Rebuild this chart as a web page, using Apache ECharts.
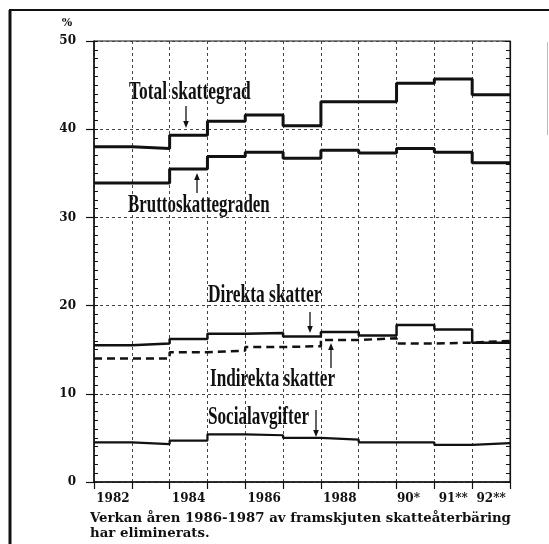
<!DOCTYPE html>
<html>
<head>
<meta charset="utf-8">
<script src="https://cdn.jsdelivr.net/npm/echarts@6/dist/echarts.min.js"></script>
<style>
html,body{margin:0;padding:0;background:#fff;}
#c{width:549px;height:544px;}
</style>
</head>
<body>
<div id="c"></div>
<script>
// ---- data ----
const years = ['1982','1983','1984','1985','1986','1987','1988','1989','1990','1991','1992'];
const yearLabels = ['1982','','1984','','1986','','1988','','90*','91**','92**'];
const totalSkattegrad = [38.0, 37.8, 39.3, 40.9, 41.6, 40.4, 43.1, 43.1, 45.2, 45.7, 43.9];
const bruttoskattegraden = [33.9, 33.9, 35.5, 36.9, 37.4, 36.7, 37.6, 37.3, 37.8, 37.4, 36.2];
const direktaSkatter = [15.5, 15.7, 16.2, 16.8, 16.9, 16.5, 17.0, 16.6, 17.8, 17.3, 15.8];
const indirektaSkatter = [14.0, 14.0, 14.7, 14.9, 15.3, 15.4, 16.1, 16.3, 15.7, 15.8, 16.0];
const socialavgifter = [4.5, 4.3, 4.7, 5.4, 5.3, 5.0, 4.8, 4.5, 4.5, 4.2, 4.4];
const footnote1 = 'Verkan åren 1986-1987 av framskjuten skatteåterbäring';
const footnote2 = 'har eliminerats.';

// step series: each year's value spans from its left boundary to the right one
const boundaries = years.concat(['']);
function stepData(arr){ return arr.concat([arr[arr.length-1]]); }

const serifBold = '"DejaVu Serif", serif';
const chart = echarts.init(document.getElementById('c'));

function arrow(x, y1, y2){
  const dir = y2 > y1 ? 1 : -1;
  return [
    {type:'line', shape:{x1:x, y1:y1, x2:x, y2:y2 - dir*5}, style:{stroke:'#111', lineWidth:1.3}, z:20},
    {type:'polygon', shape:{points:[[x-2.8, y2 - dir*7],[x+2.8, y2 - dir*7],[x, y2]]}, style:{fill:'#111'}, z:20}
  ];
}
function label(text, x, baseline, sx){
  return {type:'text', x:x, y:baseline + 5, scaleX:sx, z:20,
    style:{text:text, font:'bold 26px "Liberation Serif", serif', fill:'#111', textAlign:'left', textVerticalAlign:'bottom'}};
}

const option = {
  animation:false,
  backgroundColor:'#fff',
  grid:{left:94, right:39, top:41, bottom:62, show:true, borderColor:'#111', borderWidth:1},
  xAxis:[
    {type:'category', data:yearLabels, boundaryGap:true,
     axisLine:{lineStyle:{color:'#111', width:1.5}},
     axisTick:{show:true, length:7, interval:0, lineStyle:{color:'#111', width:1.2}},
     axisLabel:{interval:0, margin:11, color:'#111', fontFamily:serifBold, fontWeight:'bold', fontSize:12,
       formatter:function(v){ return v === '90*' ? '{s|' + v + '}' : v; },
       rich:{s:{fontFamily:serifBold, fontWeight:'bold', fontSize:12, color:'#111', padding:[0,14,0,0]}}},
     splitLine:{show:true, interval:0, lineStyle:{color:'#444', width:1, type:[3,3]}}},
    {type:'category', data:boundaries, boundaryGap:false, show:false}
  ],
  yAxis:[
    {type:'value', position:'left', min:0, max:50, interval:10,
     axisLine:{show:true, lineStyle:{color:'#111', width:1.5}},
     axisTick:{show:true, length:8, lineStyle:{color:'#111', width:1.2}},
     axisLabel:{margin:18, color:'#111', fontFamily:serifBold, fontWeight:'bold', fontSize:12},
     splitLine:{show:true, lineStyle:{color:'#444', width:1, type:[3,3]}}},
    {type:'value', position:'left', min:0, max:50, interval:10,
     axisLine:{show:false},
     axisTick:{show:true, inside:true, length:4, lineStyle:{color:'#111'}},
     minorTick:{show:true, splitNumber:10, length:4, lineStyle:{color:'#111'}},
     axisLabel:{show:false}, splitLine:{show:false}},
    {type:'value', position:'right', min:0, max:50, interval:10,
     axisLine:{show:true, lineStyle:{color:'#111', width:1.2}},
     axisTick:{show:true, inside:true, length:5, lineStyle:{color:'#111'}},
     minorTick:{show:true, splitNumber:10, length:4, lineStyle:{color:'#111'}},
     axisLabel:{show:false}, splitLine:{show:false}}
  ],
  series:[
    {name:'Total skattegrad', type:'line', xAxisIndex:1, yAxisIndex:0, step:'end', symbol:'none',
     data:stepData(totalSkattegrad), lineStyle:{color:'#111', width:3}, z:5},
    {name:'Bruttoskattegraden', type:'line', xAxisIndex:1, yAxisIndex:0, step:'end', symbol:'none',
     data:stepData(bruttoskattegraden), lineStyle:{color:'#111', width:3}, z:5},
    {name:'Direkta skatter', type:'line', xAxisIndex:1, yAxisIndex:0, step:'end', symbol:'none',
     data:stepData(direktaSkatter), lineStyle:{color:'#111', width:2.5}, z:5},
    {name:'Indirekta skatter', type:'line', xAxisIndex:1, yAxisIndex:0, step:'end', symbol:'none',
     data:stepData(indirektaSkatter), lineStyle:{color:'#111', width:2.5, type:[8,5]}, z:6},
    {name:'Socialavgifter', type:'line', xAxisIndex:1, yAxisIndex:0, step:'end', symbol:'none',
     data:stepData(socialavgifter), lineStyle:{color:'#111', width:2.2}, z:5}
  ],
  graphic:[
    // outer frame
    {type:'line', shape:{x1:9, y1:10, x2:549, y2:10}, style:{stroke:'#111', lineWidth:2}},
    {type:'line', shape:{x1:10, y1:10, x2:10, y2:544}, style:{stroke:'#111', lineWidth:3}},
    {type:'line', shape:{x1:547.5, y1:42, x2:547.5, y2:135}, style:{stroke:'#bbb', lineWidth:1}},
    // unit
    {type:'text', x:67, y:23, style:{text:'%', font:'bold 11px "DejaVu Serif", serif', fill:'#111', textAlign:'center', textVerticalAlign:'middle'}},
    // series labels
    label('Total skattegrad', 129, 100, 0.67),
    label('Bruttoskattegraden', 128, 213, 0.65),
    label('Direkta skatter', 208, 303.5, 0.67),
    label('Indirekta skatter', 210, 387.5, 0.66),
    label('Socialavgifter', 208, 425, 0.66),
    ...arrow(186, 106, 128),
    ...arrow(197, 193, 173),
    ...arrow(310, 312, 333),
    ...arrow(331, 368, 343),
    ...arrow(316, 410, 437),
    // footnote
    {type:'text', x:90, y:525, style:{text:footnote1, font:'bold 13.3px "DejaVu Serif", serif', fill:'#111', textAlign:'left', textVerticalAlign:'bottom'}},
    {type:'text', x:90, y:540, style:{text:footnote2, font:'bold 13.3px "DejaVu Serif", serif', fill:'#111', textAlign:'left', textVerticalAlign:'bottom'}}
  ]
};
chart.setOption(option);
</script>
</body>
</html>
